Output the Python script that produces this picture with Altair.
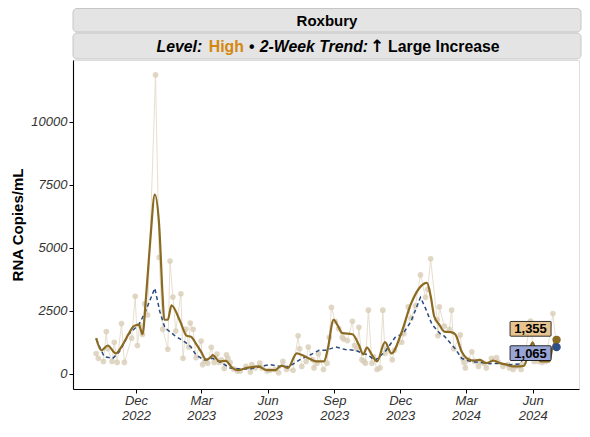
import altair as alt
import pandas as pd

# ---------------- data ----------------
raw_dates = [
    "2022-10-07", "2022-10-10", "2022-10-17", "2022-10-21", "2022-10-23", "2022-10-29",
    "2022-11-01", "2022-11-05", "2022-11-11", "2022-11-15", "2022-11-25", "2022-11-30",
    "2022-12-03", "2022-12-06", "2022-12-10", "2022-12-13", "2022-12-17", "2022-12-28",
    "2023-01-02", "2023-01-07", "2023-01-14", "2023-01-17", "2023-01-21", "2023-01-25",
    "2023-02-01", "2023-02-04", "2023-02-08", "2023-02-12", "2023-02-14", "2023-02-18",
    "2023-02-22", "2023-03-01", "2023-03-03", "2023-03-07", "2023-03-10", "2023-03-15",
    "2023-03-19", "2023-03-23", "2023-03-26", "2023-03-29", "2023-04-02", "2023-04-05",
    "2023-04-07", "2023-04-10", "2023-04-15", "2023-04-20", "2023-04-24", "2023-05-02",
    "2023-05-08", "2023-05-10", "2023-05-15", "2023-05-21", "2023-05-24", "2023-05-31",
    "2023-06-04", "2023-06-11", "2023-06-16", "2023-06-22", "2023-06-27", "2023-07-06",
    "2023-07-13", "2023-07-15", "2023-07-18", "2023-07-24", "2023-07-27", "2023-08-02",
    "2023-08-04", "2023-08-08", "2023-08-10", "2023-08-17", "2023-08-22", "2023-08-25",
    "2023-08-28", "2023-09-02", "2023-09-07", "2023-09-12", "2023-09-14", "2023-09-19",
    "2023-09-26", "2023-09-29", "2023-10-02", "2023-10-05", "2023-10-09", "2023-10-12",
    "2023-10-14", "2023-10-18", "2023-10-23", "2023-10-25", "2023-10-30", "2023-11-03",
    "2023-11-07", "2023-11-10", "2023-11-12", "2023-11-20", "2023-11-23", "2023-12-03",
    "2023-12-06", "2023-12-12", "2023-12-16", "2023-12-22", "2023-12-29", "2024-01-05",
    "2024-01-08", "2024-01-12", "2024-01-21", "2024-01-22", "2024-01-24", "2024-01-31",
    "2024-02-07", "2024-02-10", "2024-02-13", "2024-02-22", "2024-02-25", "2024-02-27",
    "2024-02-29", "2024-03-04", "2024-03-09", "2024-03-13", "2024-03-18", "2024-03-20",
    "2024-03-25", "2024-03-29", "2024-04-05", "2024-04-12", "2024-04-14", "2024-04-21",
    "2024-04-28", "2024-04-30", "2024-05-05", "2024-05-09", "2024-05-16", "2024-05-17",
    "2024-05-21", "2024-05-29", "2024-06-03", "2024-06-09", "2024-06-14", "2024-06-19",
    "2024-06-29", "2024-07-03",
]
raw_values = [
    810, 620, 500, 1680, 1000, 500,
    1260, 460, 2000, 460, 1420, 3080,
    1130, 1930, 1570, 2780, 2340, 11860,
    4620, 1770, 980, 4480, 3050, 1700,
    3180, 620, 1780, 1070, 2020, 1770,
    650, 1310, 370, 520, 430, 1060,
    460, 790, 460, 560, 220, 760,
    620, 460, 200, 115, 115, 300,
    75, 370, 240, 430, 240, 115,
    150, 180, 50, 500, 180, 150,
    1515, 1000, 300, 500, 1070, 560,
    240, 430, 800, 180, 430, 1450,
    2640, 2090, 1800, 1450, 1385, 1325,
    2090, 1130, 1000, 1850, 560, 500,
    430, 2530, 430, 690, 180, 240,
    2530, 815, 1000, 560, 940, 1260,
    1600, 2660, 2210, 2700, 3930, 3040,
    3360, 4570, 2150, 1515, 2660, 1900,
    1770, 2530, 1000, 1550, 620, 460,
    240, 560, 880, 500, 300, 500,
    430, 240, 620, 650, 480, 300,
    370, 240, 180, 300, 180, 370,
    700, 2100, 500, 500, 460, 500,
    2400, 1300,
]

smooth_dates = [
    "2022-10-07", "2022-10-14", "2022-10-23", "2022-11-03", "2022-11-12", "2022-11-21",
    "2022-11-28", "2022-12-05", "2022-12-10", "2022-12-15", "2022-12-21", "2022-12-27",
    "2023-01-02", "2023-01-07", "2023-01-09", "2023-01-14", "2023-01-19", "2023-01-31",
    "2023-02-09", "2023-02-15", "2023-02-22", "2023-03-01", "2023-03-08", "2023-03-15",
    "2023-03-17", "2023-03-26", "2023-04-04", "2023-04-13", "2023-04-20", "2023-05-03",
    "2023-05-19", "2023-05-31", "2023-06-11", "2023-06-20", "2023-06-29", "2023-07-11",
    "2023-07-20", "2023-07-29", "2023-08-07", "2023-08-18", "2023-08-23", "2023-08-31",
    "2023-09-05", "2023-09-12", "2023-09-26", "2023-10-05", "2023-10-11", "2023-10-16",
    "2023-10-23", "2023-10-30", "2023-11-10", "2023-11-19", "2023-12-02", "2023-12-16",
    "2023-12-27", "2024-01-07", "2024-01-12", "2024-01-17", "2024-01-24", "2024-01-31",
    "2024-02-09", "2024-02-15", "2024-02-24", "2024-03-02", "2024-03-11", "2024-03-20",
    "2024-03-29", "2024-04-08", "2024-04-17", "2024-04-26", "2024-05-05", "2024-05-14",
    "2024-05-20", "2024-05-27", "2024-06-01", "2024-06-06", "2024-06-12", "2024-06-24",
    "2024-06-28", "2024-07-04",
]
smooth_values = [
    1425, 940, 1130, 815, 1130, 1600,
    1900, 1960, 1575, 3100, 5390, 7110,
    5900, 2980, 2150, 2150, 2720, 2090,
    1515, 1480, 1195, 880, 560, 690,
    750, 500, 520, 240, 150, 240,
    300, 150, 150, 330, 240, 815,
    730, 600, 500, 500, 1000, 2150,
    1960, 1620, 1575, 1150, 780, 1050,
    750, 500, 1260, 815, 1575, 2790,
    3390, 3610, 3100, 2280, 1960, 1680,
    1660, 1575, 880, 620, 530, 560,
    430, 530, 430, 370, 300, 300,
    330, 900, 1250, 800, 500, 500,
    1000, 1355,
]

trend_dates = [
    "2022-10-07", "2022-10-18", "2022-10-30", "2022-11-08", "2022-11-21", "2022-12-05",
    "2022-12-14", "2022-12-27", "2023-01-03", "2023-01-10", "2023-01-24", "2023-02-07",
    "2023-02-15", "2023-02-22", "2023-03-05", "2023-03-17", "2023-03-30", "2023-04-10",
    "2023-04-24", "2023-05-08", "2023-05-22", "2023-06-04", "2023-06-18", "2023-07-01",
    "2023-07-15", "2023-07-29", "2023-08-11", "2023-08-20", "2023-09-03", "2023-09-16",
    "2023-09-30", "2023-10-11", "2023-10-18", "2023-10-27", "2023-11-10", "2023-11-24",
    "2023-12-05", "2023-12-16", "2023-12-23", "2023-12-29", "2024-01-05", "2024-01-14",
    "2024-01-26", "2024-01-31", "2024-02-15", "2024-02-24", "2024-03-07", "2024-03-20",
    "2024-04-03", "2024-04-17", "2024-05-01", "2024-05-14", "2024-05-19", "2024-06-01",
    "2024-06-19", "2024-07-04",
]
trend_values = [
    1385, 690, 620, 880, 1575, 1960,
    2470, 3400, 2470, 1830, 1515, 1260,
    1070, 750, 560, 620, 430, 240,
    200, 200, 300, 370, 300, 300,
    560, 750, 940, 940, 1070, 970,
    940, 815, 750, 530, 880, 1450,
    1600, 2090, 2600, 3040, 2600, 1960,
    1575, 1500, 1000, 620, 500, 460,
    410, 430, 370, 395, 620, 900,
    880, 1065,
]

end_date = ["2024-07-04"]
end_smooth = [1355]
end_trend = [1065]

x_tick_dates = [(2022, 12), (2023, 3), (2023, 6), (2023, 9), (2023, 12), (2024, 3), (2024, 6)]
y_ticks = [0, 2500, 5000, 7500, 10000]

place = "Roxbury"
level = "High"
trend_label = "Large Increase"

# ---------------- chart ----------------
W, H = 506, 329
FONT = "Liberation Sans"

raw_df = pd.DataFrame({"date": raw_dates, "value": raw_values})
smooth_df = pd.DataFrame({"date": smooth_dates, "value": smooth_values})
trend_df = pd.DataFrame({"date": trend_dates, "value": trend_values})
end_s_df = pd.DataFrame({"date": end_date, "value": end_smooth})
end_t_df = pd.DataFrame({"date": end_date, "value": end_trend})
one = pd.DataFrame({"a": [0]})

x_enc = alt.X(
    "date:T",
    scale=alt.Scale(
        type="utc",
        domain=[alt.DateTime(year=2022, month=9, date=5, utc=True),
                alt.DateTime(year=2024, month=8, date=4, utc=True)],
    ),
    axis=alt.Axis(
        values=[alt.DateTime(year=y, month=m, date=1, utc=True) for y, m in x_tick_dates],
        labelExpr="[utcFormat(datum.value, '%b'), utcFormat(datum.value, '%Y')]",
        title=None,
        grid=False,
        domainColor="black",
        domainWidth=1.1,
        tickColor="black",
        tickSize=4,
        labelFont=FONT,
        labelFontSize=13,
        labelFontStyle="italic",
        labelColor="#333333",
        labelLineHeight=15,
        labelPadding=1,
    ),
)
y_enc = alt.Y(
    "value:Q",
    scale=alt.Scale(domain=[-595, 12450], nice=False, zero=False),
    axis=alt.Axis(
        values=y_ticks,
        format="d",
        title="RNA Copies/mL",
        titleFont=FONT,
        titleFontSize=15,
        titleFontWeight="bold",
        titleColor="black",
        titlePadding=5,
        grid=False,
        domainColor="black",
        domainWidth=1.1,
        tickColor="black",
        tickSize=4,
        labelFont=FONT,
        labelFontSize=13,
        labelFontStyle="italic",
        labelColor="#333333",
        labelPadding=2,
    ),
)

raw_line = alt.Chart(raw_df).mark_line(color="#e4dac8", strokeWidth=0.9).encode(x=x_enc, y=y_enc)
raw_pts = alt.Chart(raw_df).mark_circle(size=32, color="#d8cdb6", opacity=0.8).encode(x=x_enc, y=y_enc)
trend_line = alt.Chart(trend_df).mark_line(
    color="#2a4b82", strokeWidth=1.5, strokeDash=[4, 3]
).encode(x=x_enc, y=y_enc)
smooth_line = alt.Chart(smooth_df).mark_line(
    color="#8b6a22", strokeWidth=2.2, interpolate="monotone"
).encode(x=x_enc, y=y_enc)

box_path = "M-0.96,-0.36 L0.96,-0.36 Q1,-0.36 1,-0.32 L1,0.32 Q1,0.36 0.96,0.36 L-0.96,0.36 Q-1,0.36 -1,0.32 L-1,-0.32 Q-1,-0.36 -0.96,-0.36 Z"

def end_label(df, fill, dy):
    box = alt.Chart(df).mark_point(
        shape=box_path, size=41 * 41, filled=True, fill=fill, stroke="black",
        strokeWidth=0.8, opacity=1, xOffset=-26, yOffset=dy,
    ).encode(x=x_enc, y=y_enc)
    txt = alt.Chart(df).mark_text(
        font=FONT, fontSize=13, fontWeight="bold", color="black",
        xOffset=-26, yOffset=dy + 0.5,
    ).encode(x=x_enc, y=y_enc, text=alt.Text("value:Q", format=","))
    return box + txt

lab_s = end_label(end_s_df, "#e7c48f", -11)
lab_t = end_label(end_t_df, "#98a5d6", 6)

dot_s = alt.Chart(end_s_df).mark_circle(size=70, color="#8b6a22", opacity=1).encode(x=x_enc, y=y_enc)
dot_t = alt.Chart(end_t_df).mark_circle(size=70, color="#2f4f8a", opacity=1).encode(x=x_enc, y=y_enc)

# header strips
strip1 = alt.Chart(one).mark_rect(
    fill="#e4e4e4", stroke="#c6c6c6", strokeWidth=1, cornerRadius=4
).encode(x=alt.value(0), x2=alt.value(W + 2), y=alt.value(-51.5), y2=alt.value(-28))
strip2 = alt.Chart(one).mark_rect(
    fill="#e4e4e4", stroke="#c6c6c6", strokeWidth=1, cornerRadius=4
).encode(x=alt.value(0), x2=alt.value(W + 2), y=alt.value(-27), y2=alt.value(-1))

def txt(s, x, y, align="left", style="normal", color="black", size=15.8, font=FONT):
    return alt.Chart(one).mark_text(
        text=s, font=font, fontSize=size, fontWeight="bold", fontStyle=style,
        color=color, align=align, baseline="middle",
    ).encode(x=alt.value(x), y=alt.value(y))

Y2 = -13.5
X0 = (W + 2) / 2 - 170.5
header = (
    txt(place, (W + 2) / 2, -39.5, align="center", size=15)
    + txt("Level:", X0, Y2, style="italic")
    + txt(level, X0 + 52.3, Y2, color="#d4870e")
    + txt("\u2022", X0 + 95.3, Y2, align="center")
    + txt("2-Week Trend:", X0 + 103.3, Y2, style="italic")
    + txt("\u2191", X0 + 213.5, Y2, font="DejaVu Sans", size=17)
    + txt(trend_label, X0 + 231.6, Y2)
)

chart = alt.layer(
    raw_line, raw_pts, trend_line, smooth_line, lab_s, lab_t, dot_s, dot_t,
    strip1, strip2, header,
).properties(
    width=W, height=H,
    autosize=alt.AutoSizeParams(type="none"),
    padding={"left": 65, "top": 52, "right": 3, "bottom": 36},
).configure_view(stroke=None).configure(background="white")

chart.save("out.html", embed_options={"renderer": "svg", "actions": False})
